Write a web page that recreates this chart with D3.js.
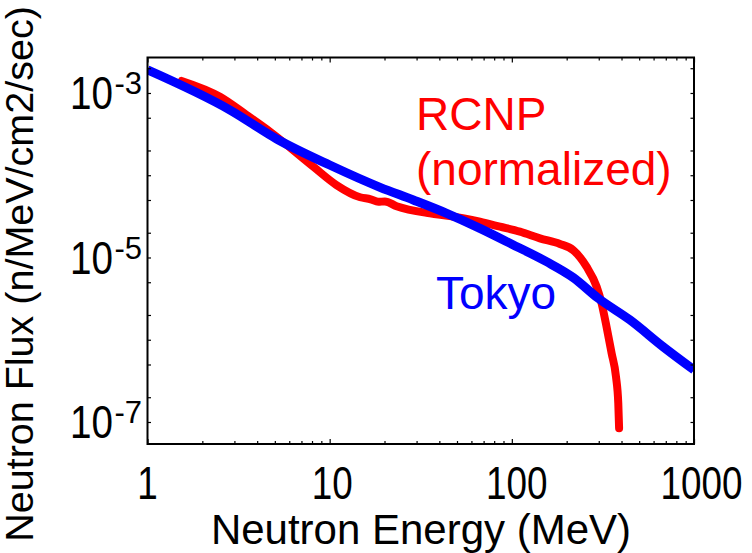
<!DOCTYPE html>
<html>
<head>
<meta charset="utf-8">
<script src="https://cdn.jsdelivr.net/npm/d3@7"></script>
<style>
    body { margin: 0; background: #fff; }
    svg text { font-family: "Liberation Sans", Arial, sans-serif; }
</style>
</head>
<body>
<svg id="chart" width="752" height="553"></svg>
<script>
// Tokyo spectrum (blue)
const tokyoEnergy = [1, 2.84, 5.12, 10.0, 18.9, 28.8, 43.9, 66.8, 102, 155, 217, 298, 445, 678, 1000];
const tokyoFlux = [1.91e-3, 6.2e-4, 2.76e-4, 1.33e-4, 7.13e-5, 5.0e-5, 3.44e-5, 2.26e-5, 1.42e-5, 8.89e-6, 5.71e-6, 3.19e-6, 1.74e-6, 8.2e-7, 4.3e-7];

// RCNP spectrum (red, normalized)
const rcnpEnergy = [1.54, 2.50, 3.50, 4.70, 8.13, 10.9, 14.7, 16.8, 18.5, 20.1, 23.3, 35.5, 45.7, 66.8, 86.1, 110.8, 142.6, 183.6, 217, 257, 292, 311, 331, 353, 373, 384, 388];
const rcnpFlux = [1.40e-3, 9.0e-4, 5.4e-4, 3.39e-4, 1.27e-4, 7.6e-5, 5.4e-5, 5.1e-5, 4.75e-5, 4.8e-5, 4.2e-5, 3.44e-5, 3.20e-5, 2.72e-5, 2.37e-5, 2.06e-5, 1.71e-5, 1.46e-5, 1.23e-5, 7.73e-6, 4.42e-6, 2.77e-6, 1.44e-6, 6.84e-7, 3.56e-7, 1.69e-7, 8.4e-8];

// Axis labels
const xTickValues = [1, 10, 100, 1000];
const yTickExponents = [-3, -5, -7];

// Layout
const plot = { left: 147.5, right: 694, top: 57.5, bottom: 444 };

const svg = d3.select('#chart');

const x = d3.scaleLog()
    .domain([1, 1000])
    .range([plot.left, plot.right]);

const y = d3.scaleLog()
    .domain([2.70e-3, 5.40e-8])
    .range([plot.top, plot.bottom]);

// Clip lines to the plot frame
svg.append('defs').append('clipPath')
    .attr('id', 'plot-clip')
    .append('rect')
    .attr('x', plot.left)
    .attr('y', plot.top)
    .attr('width', plot.right - plot.left)
    .attr('height', plot.bottom - plot.top);

const line = d3.line()
    .x(d => x(d[0]))
    .y(d => y(d[1]))
    .curve(d3.curveMonotoneX);

const lines = svg.append('g').attr('clip-path', 'url(#plot-clip)');

lines.append('path')
    .datum(d3.zip(rcnpEnergy, rcnpFlux))
    .attr('d', line)
    .attr('fill', 'none')
    .attr('stroke', '#ff0000')
    .attr('stroke-width', 8)
    .attr('stroke-linejoin', 'round')
    .attr('stroke-linecap', 'round');

lines.append('path')
    .datum(d3.zip(tokyoEnergy, tokyoFlux))
    .attr('d', line)
    .attr('fill', 'none')
    .attr('stroke', '#0000ff')
    .attr('stroke-width', 9)
    .attr('stroke-linejoin', 'round');

// Minor/major ticks, pointing inward
const xMinor = x.ticks().filter(v => !xTickValues.includes(v));
const yTicks = [];
for (let e = -8; e <= -2; e++) {
    [1, 2, 5].forEach(m => {
        const v = m * Math.pow(10, e);
        if (v <= y.domain()[0] && v >= y.domain()[1]) yTicks.push(v);
    });
}

function drawAxis(axis, translate, values, size) {
    svg.append('g')
        .attr('transform', translate)
        .call(axis.tickValues(values).tickSize(size).tickFormat(''))
        .call(g => g.select('.domain').remove())
        .call(g => g.selectAll('line').attr('stroke', '#000').attr('stroke-width', 1.2));
}

drawAxis(d3.axisBottom(x), `translate(0,${plot.bottom})`, xMinor, -3);
drawAxis(d3.axisBottom(x), `translate(0,${plot.bottom})`, xTickValues, -5);
drawAxis(d3.axisTop(x), `translate(0,${plot.top})`, xMinor, -3);
drawAxis(d3.axisTop(x), `translate(0,${plot.top})`, xTickValues, -5);
drawAxis(d3.axisLeft(y), `translate(${plot.left},0)`, yTicks, -3.5);
drawAxis(d3.axisRight(y), `translate(${plot.right},0)`, yTicks, -3.5);

// Frame
svg.append('rect')
    .attr('x', plot.left)
    .attr('y', plot.top)
    .attr('width', plot.right - plot.left)
    .attr('height', plot.bottom - plot.top)
    .attr('fill', 'none')
    .attr('stroke', '#000')
    .attr('stroke-width', 2);

// X tick labels (narrow digits)
svg.append('g').selectAll('text')
    .data(xTickValues)
    .join('text')
    .attr('x', d => x(d))
    .attr('dx', d => (String(d).length - 1) * 2.5)
    .attr('y', 499)
    .attr('text-anchor', 'middle')
    .attr('font-size', 46)
    .attr('textLength', d => String(d).length * 20.5)
    .attr('lengthAdjust', 'spacingAndGlyphs')
    .attr('fill', '#000')
    .text(d => d);

// Y tick labels: 10 with superscript exponent
const yLabels = svg.append('g').selectAll('g')
    .data(yTickExponents)
    .join('g')
    .attr('transform', d => `translate(113,${y(Math.pow(10, d))})`);

yLabels.append('text')
    .attr('y', 16.5)
    .attr('text-anchor', 'end')
    .attr('font-size', 46)
    .attr('textLength', 43)
    .attr('lengthAdjust', 'spacingAndGlyphs')
    .text('10');

yLabels.append('text')
    .attr('x', 1.5)
    .attr('y', 1.5)
    .attr('font-size', 31)
    .text(d => String(d));

// Axis titles
svg.append('text')
    .attr('x', 421)
    .attr('y', 544)
    .attr('text-anchor', 'middle')
    .attr('font-size', 42)
    .text('Neutron Energy (MeV)');

svg.append('text')
    .attr('transform', 'translate(33,274) rotate(-90)')
    .attr('text-anchor', 'middle')
    .attr('font-size', 39.5)
    .text('Neutron Flux (n/MeV/cm2/sec)');

// Series labels
svg.append('text')
    .attr('x', 416)
    .attr('y', 130)
    .attr('font-size', 46)
    .attr('fill', '#ff0000')
    .text('RCNP');

svg.append('text')
    .attr('x', 416)
    .attr('y', 185)
    .attr('font-size', 46)
    .attr('fill', '#ff0000')
    .text('(normalized)');

svg.append('text')
    .attr('x', 436)
    .attr('y', 309)
    .attr('font-size', 46)
    .attr('fill', '#0000ff')
    .text('Tokyo');
</script>
</body>
</html>
